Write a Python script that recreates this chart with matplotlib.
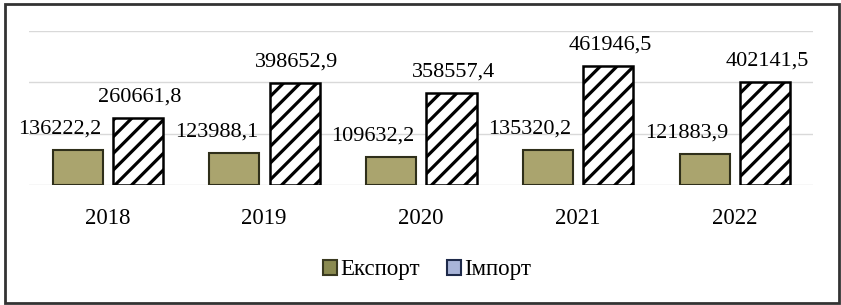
import matplotlib
matplotlib.use("Agg")
import matplotlib.pyplot as plt
from matplotlib.patches import Patch, Rectangle
import numpy as np

years = ["2018", "2019", "2020", "2021", "2022"]
export_vals = [136222.2, 123988.1, 109632.2, 135320.2, 121883.9]
import_vals = [260661.8, 398652.9, 358557.4, 461946.5, 402141.5]
series_names = ["Експорт", "Імпорт"]

plt.rcParams['font.family'] = ['Liberation Serif', 'DejaVu Serif']
plt.rcParams['hatch.linewidth'] = 2.3

W, H = 841, 305
fig = plt.figure(figsize=(W / 100, H / 100), dpi=100)
ax = fig.add_axes([29 / W, 120 / H, (813 - 29) / W, (185 - 31) / H])

x = np.arange(len(years))
bw = 0.32
exp_col = '#aaa46e'
b1 = ax.bar(x - 0.19, export_vals, bw, color=exp_col, edgecolor='#2f2f1a', linewidth=1.5, zorder=3)
b2 = ax.bar(x + 0.195, import_vals, bw, color='white', edgecolor='black', hatch='//', linewidth=1.8, zorder=3)

ax.set_xlim(-0.5, len(years) - 0.5)
ax.set_ylim(0, 600000)
ax.set_yticks([0, 200000, 400000, 600000])
ax.yaxis.grid(True, color='#d9d9d9', linewidth=1)
ax.set_axisbelow(True)
ax.tick_params(axis='y', left=False, labelleft=False)
ax.tick_params(axis='x', bottom=False, labelsize=16.5, pad=13)
ax.set_xticks(x)
ax.set_xticklabels(years)
for s in ax.spines.values():
    s.set_visible(False)

def fmt(v):
    return f"{v:.1f}".replace('.', ',')

for xi, v in zip(x, export_vals):
    ax.annotate(fmt(v), (xi - 0.19, v), xytext=(-18 * 0.72, 21 * 0.72), textcoords='offset points',
                ha='center', va='center', fontsize=16, annotation_clip=False)
for xi, v in zip(x, import_vals):
    ax.annotate(fmt(v), (xi + 0.195, v), xytext=(2 * 0.72, 21 * 0.72), textcoords='offset points',
                ha='center', va='center', fontsize=16, annotation_clip=False)

handles = [Patch(facecolor='#8a8a50', edgecolor='#3a3a20', linewidth=1.5),
           Patch(facecolor='#a8b4d8', edgecolor='#1e2a4a', linewidth=1.5)]
fig.legend(handles, series_names, loc='center', bbox_to_anchor=(427 / W, 1 - 270 / H), ncol=2,
           frameon=False, fontsize=16.5, handlelength=0.6, handleheight=0.6, handletextpad=0.15,
           columnspacing=1.2)

fig.patches.append(Rectangle((5 / W, 2 / H), (839 - 5) / W, (301 - 2) / H, transform=fig.transFigure,
                             fill=False, edgecolor='#333333', linewidth=2))

fig.savefig("out.png", dpi=100)
